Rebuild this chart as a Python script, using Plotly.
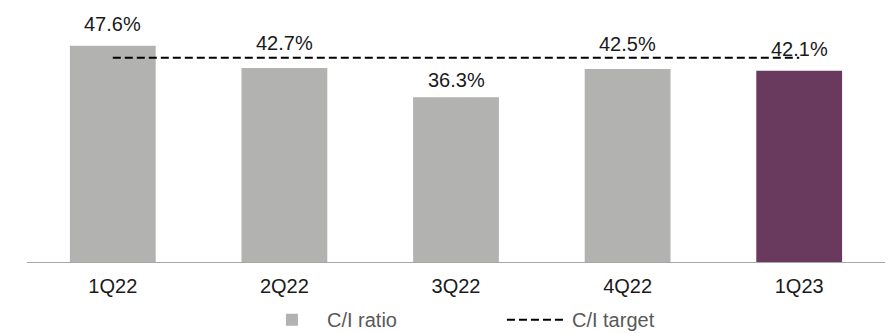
import plotly.graph_objects as go

categories = ["1Q22", "2Q22", "3Q22", "4Q22", "1Q23"]
ci_ratio = [47.6, 42.7, 36.3, 42.5, 42.1]
ci_target = [45, 45, 45, 45, 45]
bar_colors = ["#B2B3B0", "#B2B3B0", "#B2B3B0", "#B2B3B0", "#6A3A5E"]
label_gap = [15, 18, 10, 18, 15]

FONT = "Arial, Liberation Sans, sans-serif"

fig = go.Figure()
fig.add_trace(go.Bar(
    x=categories, y=ci_ratio, name="C/I ratio",
    marker=dict(color=bar_colors, line=dict(width=0)),
    width=0.5,
))
fig.add_trace(go.Scatter(
    x=categories, y=ci_target, name="C/I target", mode="lines",
    line=dict(color="#000000", width=2, dash="8px,4px"),
))

for c, v, g in zip(categories, ci_ratio, label_gap):
    fig.add_annotation(
        x=c, y=v, text=f"{v:.1f}%", showarrow=False,
        yanchor="bottom", yshift=g - 6,
        font=dict(family=FONT, size=20, color="#1a1a1a"),
    )

fig.update_layout(
    width=895, height=333,
    margin=dict(l=27, r=10, t=0, b=71, autoexpand=False),
    paper_bgcolor="white", plot_bgcolor="white",
    font=dict(family=FONT, size=20, color="#1a1a1a"),
    bargap=0.5,
    showlegend=True,
    legend=dict(
        orientation="h", x=0.268, xanchor="left", y=-0.22, yanchor="middle",
        font=dict(family=FONT, size=20, color="#595959"),
        entrywidth=170, entrywidthmode="pixels",
        itemwidth=60,
    ),
    xaxis=dict(
        showgrid=False, showline=True, linecolor="#a6a6a6", linewidth=1,
        ticks="outside", ticklen=6, tickcolor="rgba(0,0,0,0)",
        tickfont=dict(family=FONT, size=20, color="#1a1a1a"),
        automargin=False,
    ),
    yaxis=dict(
        range=[0, 57.7], visible=False, showgrid=False, zeroline=False,
        automargin=False,
    ),
)

fig.write_html(
    "out.html",
    config={"displayModeBar": False},
    post_script="document.body.style.margin='0';document.body.style.overflow='hidden';",
)
